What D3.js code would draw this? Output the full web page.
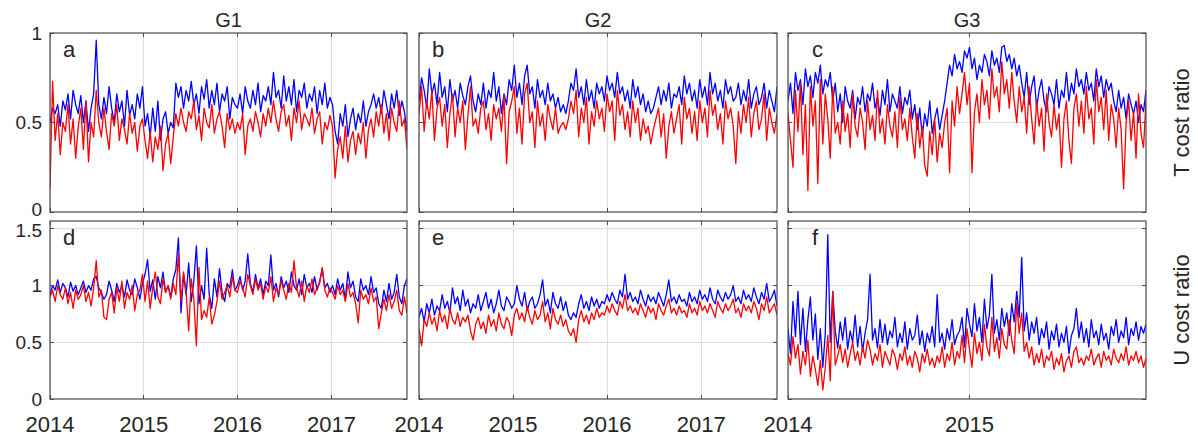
<!DOCTYPE html>
<html>
<head>
<meta charset="utf-8">
<script src="https://cdnjs.cloudflare.com/ajax/libs/d3/7.8.5/d3.min.js"></script>
<style>
body { margin: 0; background: #fff; }
text { font-family: "Liberation Sans", Arial, Helvetica, sans-serif; fill: #262626; }
</style>
</head>
<body>
<div id="chart"></div>
<script>

// sampling of each group (one value every N days)
var g12Start = "2014-01-01", g12StepDays = 10;
var g3Start = "2014-01-01", g3StepDays = 5;

var groupTitles = ["G1", "G2", "G3"];
var rowLabels = ["T cost ratio", "U cost ratio"];
var panelLetters = ["a", "b", "c", "d", "e", "f"];
var yTicksT = [0, 0.5, 1];
var yTicksU = [0, 0.5, 1, 1.5];
var yMaxT = 1, yMaxU = 1.57;
var xTicksG12 = ["2014", "2015", "2016", "2017"];
var xTicksG3 = ["2014", "2015"];

// T cost ratio
var tBlueG1 = [0.50,0.58,0.55,0.60,0.48,0.62,0.57,0.66,0.52,0.68,0.60,0.55,0.65,0.50,0.62,0.45,0.58,0.66,
    0.96,
    0.60,0.52,0.64,0.55,0.70,0.58,0.50,0.66,0.56,0.62,0.48,0.68,0.54,0.60,0.52,0.66,0.58,0.70,
    0.48,0.55,0.42,0.58,0.45,0.62,0.40,0.52,0.56,0.44,0.50,0.47,
    0.72,0.64,0.70,0.58,0.68,0.62,0.73,0.60,0.66,0.55,0.70,0.63,0.74,0.58,0.68,0.60,0.72,0.56,0.66,0.62,0.70,0.52,0.64,0.60,
    0.58,0.66,0.55,0.70,0.62,0.58,0.68,0.60,0.72,0.56,0.65,0.62,0.70,0.60,0.78,0.64,0.68,0.58,0.76,0.62,0.70,0.60,0.74,0.56,0.68,0.64,0.72,0.58,0.66,0.62,0.70,0.55,0.68,0.60,0.72,0.58,0.64,0.60,
    0.45,0.38,0.55,0.48,0.60,0.42,0.52,0.58,0.46,0.55,0.50,0.62,0.48,0.56,
    0.60,0.66,0.58,0.64,0.55,0.68,0.60,0.52,0.66,0.58,0.68,0.54,0.62,0.56,0.45];
var tRedG1 = [0.13,0.73,0.40,0.55,0.32,0.50,0.45,0.60,0.38,0.52,0.30,0.48,0.58,0.35,0.62,0.28,0.50,0.42,
    0.68,
    0.50,0.42,0.58,0.45,0.35,0.55,0.48,0.60,0.40,0.52,0.46,0.38,0.55,0.44,0.50,0.34,0.48,0.52,
    0.40,0.30,0.45,0.28,0.42,0.35,0.48,0.23,0.38,0.44,0.27,0.42,
    0.55,0.48,0.58,0.50,0.45,0.56,0.52,0.62,0.46,0.54,0.40,0.58,0.50,0.47,0.60,0.44,0.52,0.56,0.48,0.36,0.55,0.46,0.52,0.44,
    0.50,0.46,0.55,0.32,0.48,0.52,0.45,0.56,0.50,0.42,0.55,0.48,0.58,0.50,0.62,0.52,0.45,0.56,0.60,0.48,0.54,0.40,0.58,0.50,0.62,0.46,0.55,0.52,0.48,0.58,0.44,0.52,0.56,0.38,0.50,0.46,0.54,0.48,
    0.19,0.35,0.42,0.30,0.48,0.28,0.40,0.45,0.32,0.44,0.38,0.50,0.30,0.46,
    0.52,0.42,0.56,0.48,0.60,0.44,0.55,0.40,0.58,0.50,0.45,0.62,0.48,0.52,0.35];

var tBlueG2 = [0.62,0.75,0.68,0.58,0.80,0.66,0.72,0.60,0.78,0.64,
    0.70,0.56,0.74,0.62,0.68,0.58,0.72,0.65,0.60,0.70,
    0.76,0.62,0.56,0.66,0.60,0.72,0.58,0.68,0.64,0.78,
    0.62,0.70,0.55,0.66,0.60,0.74,0.68,0.82,0.64,0.72,
    0.60,0.76,0.82,0.66,0.70,0.58,0.74,0.64,0.68,0.60,
    0.72,0.62,0.66,0.58,0.64,0.56,0.60,0.55,0.62,0.72,
    0.68,0.80,0.64,0.70,0.60,0.74,0.62,0.68,0.58,0.72,
    0.66,0.70,0.62,0.76,0.68,0.72,0.64,0.78,0.66,0.70,
    0.62,0.68,0.58,0.74,0.64,0.70,0.60,0.66,0.56,0.62,
    0.55,0.58,0.64,0.70,0.60,0.68,0.62,0.72,0.58,0.66,
    0.64,0.70,0.60,0.76,0.66,0.72,0.62,0.68,0.58,0.74,
    0.64,0.70,0.60,0.78,0.66,0.72,0.62,0.68,0.58,0.74,
    0.66,0.70,0.62,0.64,0.72,0.60,0.68,0.62,0.74,0.58,
    0.66,0.70,0.60,0.64,0.72,0.58,0.68,0.62,0.56,0.70];
var tRedG2 = [0.55,0.70,0.45,0.62,0.52,0.68,0.40,0.58,0.64,0.48,
    0.60,0.36,0.55,0.66,0.42,0.58,0.50,0.62,0.35,0.54,
    0.70,0.48,0.52,0.44,0.58,0.62,0.46,0.55,0.40,0.60,
    0.52,0.58,0.45,0.65,0.27,0.56,0.62,0.70,0.44,0.58,
    0.38,0.66,0.72,0.50,0.56,0.36,0.62,0.48,0.55,0.40,
    0.60,0.52,0.46,0.58,0.44,0.48,0.50,0.46,0.52,0.62,
    0.55,0.68,0.42,0.58,0.50,0.64,0.38,0.56,0.48,0.62,
    0.52,0.58,0.45,0.66,0.56,0.62,0.40,0.68,0.54,0.60,
    0.46,0.56,0.42,0.62,0.50,0.58,0.40,0.52,0.44,0.48,
    0.38,0.46,0.52,0.58,0.42,0.55,0.30,0.48,0.56,0.44,
    0.52,0.60,0.38,0.64,0.52,0.58,0.44,0.56,0.40,0.62,
    0.50,0.58,0.42,0.68,0.54,0.60,0.46,0.55,0.38,0.62,
    0.52,0.58,0.48,0.27,0.56,0.44,0.60,0.50,0.64,0.42,
    0.55,0.62,0.46,0.52,0.66,0.40,0.58,0.50,0.44,0.55];

var tBlueG3 = [0.62,0.72,0.55,0.78,0.68,0.74,0.60,0.80,0.70,0.76,0.64,0.78,0.72,0.82,0.66,0.74,0.70,0.78,0.62,0.72,
    0.56,0.66,0.50,0.70,0.62,0.58,0.68,0.52,0.64,0.60,0.70,0.56,0.66,0.62,0.72,0.58,0.64,0.54,0.68,0.60,0.74,0.56,0.66,0.62,0.58,0.70,0.55,0.64,0.60,0.68,
    0.52,0.60,0.46,0.58,0.42,0.55,0.48,0.62,0.44,0.52,0.58,0.46,0.54,0.62,
    0.72,0.82,0.76,0.88,0.80,0.84,0.78,0.90,0.86,
    0.92,0.80,0.86,0.74,0.82,0.78,0.88,0.84,0.76,0.90,0.82,0.86,0.78,0.92,0.93,0.84,0.88,0.80,0.86,0.76,0.82,
    0.72,0.64,0.78,0.60,0.70,0.76,0.58,0.68,0.74,0.62,0.56,0.70,0.66,0.60,0.74,0.58,0.68,0.64,0.78,0.62,0.72,0.66,0.80,0.70,
    0.74,0.66,0.78,0.68,0.72,0.62,0.80,0.70,0.76,0.64,0.74,0.68,0.72,
    0.62,0.56,0.68,0.58,0.64,0.52,0.66,0.60,0.55,0.62,0.50,0.60,0.56,0.68];
var tRedG3 = [0.55,0.40,0.25,0.68,0.45,0.72,0.32,0.60,0.12,0.70,0.48,0.62,0.16,0.74,0.38,0.66,0.52,0.30,0.70,0.44,
    0.50,0.38,0.62,0.45,0.55,0.36,0.66,0.48,0.42,0.58,0.50,0.35,0.62,0.46,0.54,0.40,0.68,0.44,0.52,0.38,0.60,0.48,0.42,0.56,0.36,0.64,0.46,0.52,0.40,0.58,
    0.42,0.30,0.55,0.36,0.48,0.26,0.20,0.45,0.32,0.52,0.28,0.44,0.36,0.50,
    0.58,0.22,0.62,0.48,0.70,0.55,0.66,0.78,0.60,
    0.72,0.22,0.56,0.66,0.50,0.74,0.60,0.68,0.52,0.80,0.64,0.70,0.56,0.84,0.66,0.74,0.58,0.78,0.62,0.50,0.70,
    0.56,0.64,0.44,0.70,0.52,0.38,0.62,0.48,0.58,0.34,0.66,0.50,0.42,0.60,0.46,0.55,0.25,0.52,0.62,0.40,0.27,0.58,0.66,0.48,
    0.62,0.44,0.70,0.52,0.58,0.38,0.74,0.56,0.64,0.46,0.68,0.40,0.60,
    0.52,0.36,0.58,0.46,0.13,0.50,0.62,0.40,0.56,0.30,0.66,0.44,0.36,0.62];

// U cost ratio
var uBlueG1 = [0.92,1.00,0.96,1.05,0.94,1.02,0.98,0.90,1.03,0.95,1.00,0.92,0.98,1.04,0.94,1.00,0.96,1.06,
    1.08,0.98,0.94,0.88,0.92,1.04,0.96,0.86,1.02,0.94,1.00,0.90,1.05,0.96,0.92,1.06,0.98,0.88,1.02,
    1.10,1.23,0.95,1.05,0.88,1.08,0.98,1.12,0.94,1.00,0.90,1.06,1.14,
    1.42,0.76,1.10,0.92,1.20,0.86,1.04,1.35,0.84,1.00,0.88,1.33,0.92,0.80,1.06,0.90,1.15,0.94,0.86,1.02,0.98,1.14,0.96,
    1.00,1.08,0.96,1.04,1.28,1.02,0.94,1.10,0.98,1.06,0.92,1.04,1.00,1.27,0.96,1.02,0.90,1.08,0.98,1.04,0.94,1.12,1.00,0.96,1.06,0.92,1.10,0.98,1.02,0.94,1.08,0.96,1.04,1.15,0.98,1.02,0.94,
    1.00,0.92,1.06,0.96,1.02,0.88,1.12,0.98,1.04,0.90,0.86,1.06,0.96,1.00,0.92,1.08,0.94,0.98,0.84,0.80,0.96,0.86,1.02,0.88,0.94,1.10,0.90,0.84,1.00,1.06];
var uRedG1 = [0.90,0.96,0.86,1.00,0.92,0.88,0.98,0.84,0.94,0.80,0.96,0.88,0.92,1.00,0.86,0.94,0.82,0.98,
    1.22,0.90,0.96,0.72,0.70,0.88,0.94,0.76,0.98,0.86,1.04,0.80,0.94,0.88,1.00,0.78,0.92,0.96,1.10,
    0.86,1.04,0.80,0.98,1.12,0.90,0.84,1.06,0.94,1.00,0.88,1.02,0.92,
    1.28,0.86,1.12,0.94,0.60,1.06,0.88,0.47,1.16,0.70,0.78,0.72,0.90,0.66,0.74,0.86,1.04,0.88,0.94,1.00,0.90,1.08,0.96,
    0.94,1.04,0.98,0.90,1.10,1.00,0.92,1.06,0.96,1.02,0.88,1.00,0.94,1.08,0.86,0.98,0.92,1.04,0.96,0.88,1.02,0.94,1.22,0.98,0.90,1.04,0.86,1.00,0.94,1.06,0.92,0.98,1.02,1.16,0.96,0.90,0.98,
    0.94,0.88,1.00,0.92,0.96,0.86,1.02,0.90,0.94,0.84,0.67,0.96,0.88,0.92,0.84,0.98,0.86,0.90,0.62,0.76,0.88,0.78,0.92,0.80,0.86,0.96,0.78,0.74,0.90,0.76];

var uBlueG2 = [0.72,0.80,0.68,0.84,0.76,0.88,0.74,0.82,0.78,0.92,0.80,0.86,0.76,0.98,0.84,0.90,0.78,0.96,0.82,0.88,
    0.76,0.84,0.80,0.92,0.78,0.86,0.94,0.80,0.88,0.76,0.84,0.96,0.82,0.78,0.90,0.86,0.80,0.84,1.00,0.88,
    0.82,0.94,0.78,0.86,0.90,0.80,0.84,0.92,1.05,0.82,0.88,0.76,0.94,0.84,0.80,0.90,0.78,0.86,0.74,0.70,
    0.76,0.72,0.84,0.92,0.80,0.86,0.78,0.90,0.82,0.88,0.80,0.86,0.84,0.92,0.86,0.94,0.88,0.84,0.96,0.90,
    1.10,0.88,0.94,0.86,0.90,0.84,0.96,0.88,0.82,0.92,0.86,0.90,0.84,0.94,0.88,0.82,0.92,1.05,0.86,0.90,
    0.84,0.92,0.86,0.88,0.82,0.94,0.86,0.90,0.84,0.96,0.88,0.92,0.86,0.98,0.88,0.84,0.96,0.90,0.86,0.94,
    0.88,0.92,1.00,0.86,0.90,0.84,0.96,0.88,0.92,0.86,0.98,0.90,0.84,0.94,0.88,1.02,0.86,0.90,0.96,0.82];
var uRedG2 = [0.62,0.47,0.70,0.64,0.76,0.66,0.72,0.60,0.78,0.68,0.74,0.62,0.80,0.70,0.66,0.76,0.64,0.72,0.68,0.74,
    0.60,0.52,0.66,0.72,0.62,0.68,0.58,0.74,0.64,0.70,0.60,0.76,0.66,0.62,0.72,0.68,0.56,0.74,0.80,0.70,
    0.76,0.68,0.82,0.72,0.66,0.78,0.70,0.74,0.86,0.68,0.76,0.62,0.80,0.70,0.66,0.74,0.64,0.70,0.60,0.56,
    0.62,0.50,0.70,0.78,0.68,0.74,0.66,0.76,0.70,0.80,0.72,0.76,0.74,0.82,0.76,0.84,0.78,0.74,0.86,0.80,
    0.92,0.78,0.82,0.76,0.80,0.74,0.84,0.78,0.72,0.82,0.76,0.80,0.70,0.84,0.78,0.74,0.82,0.88,0.76,0.80,
    0.74,0.82,0.76,0.78,0.72,0.84,0.76,0.80,0.74,0.86,0.78,0.82,0.76,0.84,0.78,0.72,0.86,0.80,0.76,0.84,
    0.78,0.82,0.88,0.76,0.80,0.72,0.84,0.78,0.82,0.76,0.86,0.80,0.70,0.84,0.78,0.90,0.76,0.80,0.84,0.74];

var uBlueG3 = [0.62,0.40,0.86,0.55,0.95,0.48,0.80,0.42,0.70,0.90,0.52,0.75,0.35,0.62,0.28,0.58,1.45,0.50,0.95,0.60,
    0.45,0.68,0.52,0.72,0.44,0.60,0.50,0.74,0.46,0.64,0.42,0.58,0.70,1.10,0.52,0.62,0.45,0.70,0.50,0.66,
    0.48,0.60,0.54,0.72,0.46,0.58,0.50,0.68,0.44,0.62,0.52,0.56,0.74,0.48,0.60,0.42,0.58,0.50,0.64,0.46,
    0.92,0.50,0.58,0.44,0.62,0.52,0.70,0.48,0.56,0.60,0.72,0.46,0.80,0.66,0.55,0.84,0.60,0.72,0.50,0.88,
    0.62,0.74,1.10,0.58,0.70,0.52,0.80,0.64,0.76,0.56,0.84,0.68,0.95,0.72,1.25,0.60,0.76,0.52,0.68,0.58,
    0.72,0.48,0.62,0.54,0.68,0.44,0.60,0.52,0.66,0.46,0.58,0.50,0.64,0.40,0.56,0.62,0.80,0.54,0.68,0.50,
    0.62,0.46,0.70,0.54,0.60,0.48,0.66,0.52,0.58,0.44,0.64,0.56,0.70,0.50,0.60,0.54,0.72,0.48,0.62,0.56,
    0.68,0.52,0.64,0.58,0.66];
var uRedG3 = [0.40,0.30,0.55,0.36,0.48,0.22,0.42,0.30,0.52,0.20,0.38,0.26,0.12,0.34,0.08,0.28,0.56,0.16,0.95,0.30,
    0.38,0.48,0.32,0.44,0.28,0.40,0.50,0.34,0.42,0.30,0.46,0.36,0.52,0.44,0.30,0.40,0.34,0.48,0.28,0.42,
    0.36,0.30,0.44,0.38,0.26,0.40,0.34,0.46,0.30,0.38,0.28,0.42,0.36,0.24,0.40,0.32,0.44,0.30,0.36,0.28,
    0.38,0.32,0.46,0.28,0.40,0.34,0.50,0.30,0.42,0.36,0.56,0.32,0.62,0.44,0.28,0.58,0.40,0.50,0.34,0.66,
    0.46,0.38,0.72,0.42,0.54,0.36,0.62,0.48,0.44,0.70,0.52,0.40,0.85,0.58,0.76,0.42,0.50,0.36,0.46,0.30,
    0.40,0.32,0.44,0.28,0.38,0.34,0.42,0.26,0.36,0.30,0.40,0.24,0.34,0.38,0.28,0.42,0.46,0.32,0.36,0.30,
    0.38,0.34,0.44,0.30,0.36,0.40,0.28,0.42,0.34,0.38,0.30,0.44,0.36,0.32,0.40,0.34,0.46,0.30,0.38,0.34,
    0.42,0.32,0.38,0.28,0.36];


var parseDate = d3.timeParse("%Y-%m-%d");
var parseYear = d3.timeParse("%Y");

function makeDates(start, step, n) {
    var t0 = parseDate(start);
    return d3.range(n).map(function (i) { return d3.timeDay.offset(t0, i * step); });
}

/*
 *  PanelVis - one axes box with a blue and a red series
 */
PanelVis = function(_svg, _opts) {
    this.svg = _svg;
    this.opts = _opts;
    this.initVis();
}

PanelVis.prototype.initVis = function() {
    var vis = this;
    var o = vis.opts;

    vis.width = o.box[2] - o.box[0];
    vis.height = o.box[3] - o.box[1];

    vis.g = vis.svg.append("g")
        .attr("transform", "translate(" + o.box[0] + "," + o.box[1] + ")");

    vis.x = d3.scaleTime()
        .domain(d3.extent(o.dates))
        .range([0, vis.width]);

    vis.y = d3.scaleLinear()
        .domain([0, o.yMax])
        .range([vis.height, 0]);

    vis.xTickDates = o.xTicks.map(function (d) { return parseYear(d); });

    vis.clipId = "clip-" + o.letter;
    vis.g.append("clipPath").attr("id", vis.clipId)
        .append("rect")
        .attr("width", vis.width)
        .attr("height", vis.height);

    vis.updateVis();
}

PanelVis.prototype.updateVis = function() {
    var vis = this;
    var o = vis.opts;
    var tickLen = 4;

    // grid
    vis.g.selectAll(".ygrid")
        .data(o.yTicks.filter(function (d) { return d > 0 && d < o.yMax; }))
        .enter().append("line")
        .attr("class", "ygrid")
        .attr("x1", 0).attr("x2", vis.width)
        .attr("y1", function (d) { return vis.y(d); })
        .attr("y2", function (d) { return vis.y(d); })
        .attr("stroke", "#dedede").attr("stroke-width", 1)
        .attr("shape-rendering", "crispEdges");

    vis.g.selectAll(".xgrid")
        .data(vis.xTickDates)
        .enter().append("line")
        .attr("class", "xgrid")
        .attr("y1", 0).attr("y2", vis.height)
        .attr("x1", function (d) { return vis.x(d); })
        .attr("x2", function (d) { return vis.x(d); })
        .attr("stroke", "#dedede").attr("stroke-width", 1)
        .attr("shape-rendering", "crispEdges");

    // letter
    vis.g.append("text")
        .attr("x", o.letterX)
        .attr("y", 24)
        .attr("font-size", 22)
        .text(o.letter);

    // series
    var line = d3.line()
        .x(function (d, i) { return vis.x(o.dates[i]); })
        .y(function (d) { return vis.y(d); });

    var lines = vis.g.append("g").attr("clip-path", "url(#" + vis.clipId + ")");

    lines.append("path")
        .datum(o.blue)
        .attr("fill", "none")
        .attr("stroke", "#0000ff")
        .attr("stroke-width", 1.3)
        .attr("stroke-linejoin", "round")
        .attr("d", line);

    lines.append("path")
        .datum(o.red)
        .attr("fill", "none")
        .attr("stroke", "#ff0000")
        .attr("stroke-width", 1.3)
        .attr("stroke-linejoin", "round")
        .attr("d", line);

    // inner ticks, both sides
    var ax = vis.g.append("g").attr("stroke", "#4a4a4a").attr("shape-rendering", "crispEdges");
    o.yTicks.forEach(function (t) {
        ax.append("line").attr("x1", 0).attr("x2", tickLen).attr("y1", vis.y(t)).attr("y2", vis.y(t));
        ax.append("line").attr("x1", vis.width - tickLen).attr("x2", vis.width).attr("y1", vis.y(t)).attr("y2", vis.y(t));
    });
    vis.xTickDates.forEach(function (t) {
        ax.append("line").attr("y1", vis.height).attr("y2", vis.height - tickLen).attr("x1", vis.x(t)).attr("x2", vis.x(t));
        ax.append("line").attr("y1", 0).attr("y2", tickLen).attr("x1", vis.x(t)).attr("x2", vis.x(t));
    });

    // box
    vis.g.append("rect")
        .attr("width", vis.width)
        .attr("height", vis.height)
        .attr("fill", "none")
        .attr("stroke", "#4a4a4a")
        .attr("stroke-width", 1.2);

    // tick labels
    if (o.showY) {
        vis.g.selectAll(".ylab")
            .data(o.yTicks)
            .enter().append("text")
            .attr("class", "ylab")
            .attr("x", -8)
            .attr("y", function (d) { return vis.y(d); })
            // lowest label of the top row sits a bit high, top label of the bottom row a bit low
            .attr("dy", function (d, i) {
                if (o.row == 0 && i == 0) return "0.2em";
                if (o.row == 1 && i == o.yTicks.length - 1) return "0.42em";
                return "0.36em";
            })
            .attr("font-size", 19)
            .style("text-anchor", "end")
            .text(function (d) { return d3.format("~g")(d); });
    }
    if (o.showX) {
        vis.g.selectAll(".xlab")
            .data(vis.xTickDates)
            .enter().append("text")
            .attr("class", "xlab")
            .attr("x", function (d) { return vis.x(d); })
            .attr("y", vis.height + 33)
            .attr("font-size", 22)
            .style("text-anchor", "middle")
            .text(function (d) { return d3.timeFormat("%Y")(d); });
    }
    if (o.title) {
        vis.g.append("text")
            .attr("x", vis.width / 2)
            .attr("y", -6)
            .attr("font-size", 20)
            .style("text-anchor", "middle")
            .text(o.title);
    }
};


var svg = d3.select("#chart").append("svg")
    .attr("width", 1198)
    .attr("height", 437);

var datesG12 = makeDates(g12Start, g12StepDays, tBlueG1.length);
var datesG3 = makeDates(g3Start, g3StepDays, tBlueG3.length);

var colBoxes = [[50, 407], [419, 777], [788, 1146]];
var rowBoxes = [[33, 212], [221, 399]];

var series = [
    [tBlueG1, tRedG1], [tBlueG2, tRedG2], [tBlueG3, tRedG3],
    [uBlueG1, uRedG1], [uBlueG2, uRedG2], [uBlueG3, uRedG3]
];

series.forEach(function (s, k) {
    var row = Math.floor(k / 3), col = k % 3;
    new PanelVis(svg, {
        box: [colBoxes[col][0], rowBoxes[row][0], colBoxes[col][1], rowBoxes[row][1]],
        row: row,
        dates: col == 2 ? datesG3 : datesG12,
        blue: s[0],
        red: s[1],
        yMax: row == 0 ? yMaxT : yMaxU,
        yTicks: row == 0 ? yTicksT : yTicksU,
        xTicks: col == 2 ? xTicksG3 : xTicksG12,
        letter: panelLetters[k],
        letterX: col == 2 ? 24 : 13,
        showY: col == 0,
        showX: row == 1,
        title: row == 0 ? groupTitles[col] : null
    });
});

// row labels on the right
rowBoxes.forEach(function (r, i) {
    svg.append("text")
        .attr("transform", "translate(1181," + ((r[0] + r[1]) / 2) + ") rotate(-90)")
        .attr("dy", "0.36em")
        .attr("font-size", 22)
        .style("text-anchor", "middle")
        .text(rowLabels[i]);
});

</script>
</body>
</html>
